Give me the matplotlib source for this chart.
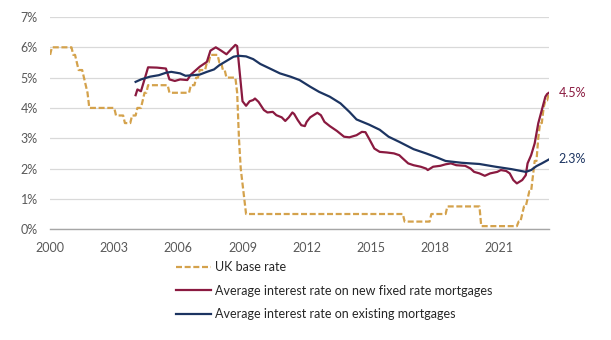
import matplotlib

matplotlib.use("Agg")
import matplotlib.pyplot as plt
from matplotlib.ticker import FuncFormatter

plt.rcParams["font.family"] = ["Lato", "DejaVu Sans"]

# Bank Rate turning points (month, %)
base_months = [
    "2000-01", "2000-02", "2001-01", "2001-02", "2001-03", "2001-04", "2001-05",
    "2001-07", "2001-08", "2001-09", "2001-10", "2001-11", "2003-01", "2003-02",
    "2003-06", "2003-07", "2003-10", "2003-11", "2004-01", "2004-02", "2004-04",
    "2004-05", "2004-06", "2004-07", "2004-08", "2005-07", "2005-08", "2006-07",
    "2006-08", "2006-10", "2006-11", "2006-12", "2007-01", "2007-04", "2007-05",
    "2007-06", "2007-07", "2007-11", "2007-12", "2008-01", "2008-02", "2008-03",
    "2008-04", "2008-09", "2008-10", "2008-11", "2008-12", "2009-01", "2009-02",
    "2009-03", "2016-07", "2016-08", "2017-10", "2017-11", "2018-07", "2018-08",
    "2020-02", "2020-03", "2021-11", "2021-12", "2022-01", "2022-02", "2022-03",
    "2022-04", "2022-05", "2022-06", "2022-07", "2022-08", "2022-09", "2022-10",
    "2022-11", "2022-12", "2023-01", "2023-02", "2023-03", "2023-04", "2023-05",
]
base_rate = [
    5.75, 6.0, 6.0, 5.75, 5.75, 5.5, 5.25,
    5.25, 5.0, 4.75, 4.5, 4.0, 4.0, 3.75,
    3.75, 3.5, 3.5, 3.75, 3.75, 4.0, 4.0,
    4.25, 4.5, 4.5, 4.75, 4.75, 4.5, 4.5,
    4.75, 4.75, 5.0, 5.0, 5.25, 5.25, 5.5,
    5.5, 5.75, 5.75, 5.5, 5.5, 5.25, 5.25,
    5.0, 5.0, 4.5, 3.0, 2.0, 1.5, 1.0,
    0.5, 0.5, 0.25, 0.25, 0.5, 0.5, 0.75,
    0.75, 0.1, 0.1, 0.25, 0.25, 0.5, 0.75,
    0.75, 1.0, 1.25, 1.25, 1.75, 2.25, 2.25,
    3.0, 3.5, 3.5, 4.0, 4.25, 4.25, 4.5,
]

fixed_months = [
    "2004-01", "2004-02", "2004-04", "2004-07", "2004-08", "2005-01", "2005-06",
    "2005-08", "2005-11", "2006-02", "2006-06", "2006-08", "2007-01", "2007-05",
    "2007-07", "2007-10", "2008-01", "2008-04", "2008-07", "2008-09", "2008-10",
    "2009-01", "2009-03", "2009-05", "2009-07", "2009-08", "2009-10", "2010-01",
    "2010-03", "2010-06", "2010-08", "2010-11", "2011-01", "2011-03", "2011-05",
    "2011-06", "2011-08", "2011-10", "2011-12", "2012-01", "2012-03", "2012-07",
    "2012-09", "2012-11", "2013-02", "2013-06", "2013-10", "2014-01", "2014-05",
    "2014-08", "2014-10", "2014-12", "2015-03", "2015-06", "2015-10", "2016-02",
    "2016-05", "2016-07", "2016-10", "2017-01", "2017-05", "2017-08", "2017-09",
    "2017-12", "2018-04", "2018-07", "2018-10", "2019-01", "2019-06", "2019-09",
    "2019-11", "2020-02", "2020-05", "2020-08", "2020-12", "2021-02", "2021-05",
    "2021-07", "2021-09", "2021-11", "2022-02", "2022-04", "2022-05", "2022-07",
    "2022-09", "2022-11", "2023-01", "2023-03", "2023-04", "2023-05",
]
fixed_rate = [
    4.42, 4.61, 4.55, 5.14, 5.34, 5.33, 5.30,
    4.94, 4.89, 4.94, 4.92, 5.10, 5.36, 5.52,
    5.89, 6.00, 5.89, 5.77, 5.96, 6.08, 6.04,
    4.22, 4.07, 4.22, 4.26, 4.31, 4.20, 3.93,
    3.85, 3.87, 3.76, 3.69, 3.57, 3.69, 3.85,
    3.80, 3.60, 3.43, 3.40, 3.54, 3.69, 3.84,
    3.76, 3.54, 3.40, 3.24, 3.05, 3.03, 3.10,
    3.21, 3.20, 2.99, 2.66, 2.55, 2.53, 2.50,
    2.44, 2.33, 2.17, 2.11, 2.06, 2.00, 1.95,
    2.06, 2.09, 2.14, 2.17, 2.11, 2.09, 2.00,
    1.89, 1.84, 1.76, 1.84, 1.89, 1.95, 1.92,
    1.84, 1.62, 1.51, 1.62, 1.78, 2.17, 2.44,
    2.83, 3.49, 3.93, 4.37, 4.46, 4.50,
]

existing_months = [
    "2004-01", "2004-04", "2004-09", "2005-02", "2005-06", "2005-09", "2006-02",
    "2006-05", "2006-09", "2007-01", "2007-05", "2007-09", "2007-12", "2008-04",
    "2008-08", "2008-11", "2009-03", "2009-07", "2009-11", "2010-04", "2010-10",
    "2011-04", "2011-09", "2012-03", "2012-08", "2013-02", "2013-08", "2014-01",
    "2014-05", "2014-12", "2015-06", "2015-11", "2016-05", "2017-01", "2017-08",
    "2018-02", "2018-07", "2019-04", "2020-02", "2020-11", "2021-08", "2022-04",
    "2022-07", "2022-10", "2023-01", "2023-05",
]
existing_rate = [
    4.86, 4.94, 5.03, 5.08, 5.16, 5.19, 5.14,
    5.06, 5.08, 5.10, 5.19, 5.27, 5.41, 5.55,
    5.69, 5.72, 5.70, 5.61, 5.45, 5.31, 5.14,
    5.03, 4.92, 4.70, 4.53, 4.37, 4.15, 3.87,
    3.62, 3.45, 3.28, 3.05, 2.88, 2.64, 2.50,
    2.37, 2.25, 2.19, 2.15, 2.06, 1.98, 1.89,
    1.95, 2.08, 2.17, 2.30,
]

year_ticks = [2000, 2003, 2006, 2009, 2012, 2015, 2018, 2021]

GOLD = "#D4A24C"
MAROON = "#8A1A40"
NAVY = "#1C3461"


def to_year(months):
    return [int(m[:4]) + (int(m[5:]) - 1) / 12 for m in months]


fig = plt.figure(figsize=(6.11, 3.4), dpi=100)
ax = fig.add_axes([0.082, 0.326, 0.817, 0.624])

ax.plot(to_year(base_months), base_rate, color=GOLD, lw=1.6,
        dashes=(2.7, 1.2), label="UK base rate")
ax.plot(to_year(fixed_months), fixed_rate, color=MAROON, lw=1.6,
        label="Average interest rate on new fixed rate mortgages")
ax.plot(to_year(existing_months), existing_rate, color=NAVY, lw=1.6,
        label="Average interest rate on existing mortgages")

ax.annotate(f"{fixed_rate[-1]:.1f}%", (to_year(fixed_months)[-1], fixed_rate[-1]),
            xytext=(7, 0), textcoords="offset points", va="center", ha="left",
            color=MAROON, fontsize=9)
ax.annotate(f"{existing_rate[-1]:.1f}%", (to_year(existing_months)[-1], existing_rate[-1]),
            xytext=(7, 0), textcoords="offset points", va="center", ha="left",
            color=NAVY, fontsize=9)

ax.set_xlim(2000, 2023.35)
ax.set_ylim(0, 7)
ax.set_xticks(year_ticks)
ax.set_yticks(range(0, 8))
ax.yaxis.set_major_formatter(FuncFormatter(lambda v, _: f"{v:.0f}%"))
ax.tick_params(length=0, labelsize=9, colors="#595959", pad=9)
ax.grid(axis="y", color="#d9d9d9", lw=0.9)
ax.set_axisbelow(True)
for side in ("top", "right", "left"):
    ax.spines[side].set_visible(False)
ax.spines["bottom"].set_color("#a6a6a6")
ax.spines["bottom"].set_linewidth(1.0)

ax.legend(loc="upper left", bbox_to_anchor=(0.288, 0.232),
          bbox_transform=fig.transFigure, frameon=False, fontsize=9,
          handlelength=2.8, handletextpad=0.35, labelspacing=0.92,
          labelcolor="#262626", borderaxespad=0, borderpad=0)

fig.savefig("out.png", dpi=100)
